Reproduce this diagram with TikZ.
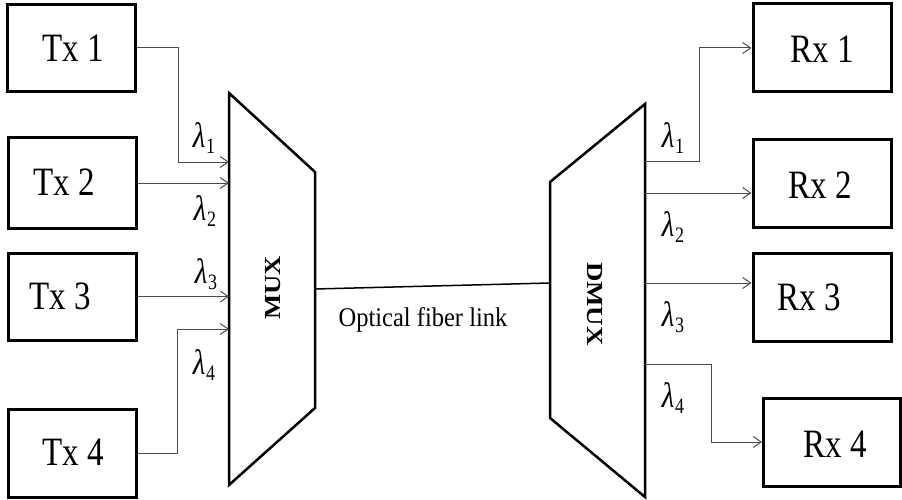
\documentclass[tikz,border=0pt]{standalone}
\usepackage{graphicx}
\usepackage{fontspec}
\setmainfont{Liberation Serif}
\usetikzlibrary{arrows.meta}
\newcommand{\vstretch}[1]{\scalebox{1}[1.22]{#1}}
\newcommand{\lamlabel}[1]{\vstretch{\fontsize{29}{29}\selectfont\textit{λ}\kern0.5pt\raisebox{-0.16em}{\fontsize{18}{18}\selectfont #1}}}
\begin{document}
\begin{tikzpicture}[x=1pt,y=-1pt,
  box/.style={draw=black,line width=3pt,inner sep=0pt},
  boxtext/.style={font=\fontsize{33}{33}\selectfont,inner sep=0pt},
  arr/.style={draw=black!70,line width=1pt,-{Straight Barb[length=8pt,width=11pt,line width=1pt]}},
  lam/.style={inner sep=0pt},
  dev/.style={draw=black,line width=2.5pt,line join=miter},
  devtext/.style={font=\fontsize{23}{23}\selectfont\bfseries,inner sep=0pt}]
\useasboundingbox (0,0) rectangle (902,500);
% transmitter boxes
\node[box,minimum width=128pt,minimum height=87pt] (tx1) at (71.5,48) {};
\node[box,minimum width=128pt,minimum height=90pt] (tx2) at (72.5,183) {};
\node[box,minimum width=128pt,minimum height=87pt] (tx3) at (72,296.5) {};
\node[box,minimum width=128pt,minimum height=88pt] (tx4) at (72,453) {};
\node[boxtext] (t1) at (73,48) {\vstretch{Tx 1}};
\node[boxtext] (t2) at (64,182) {\vstretch{Tx 2}};
\node[boxtext] (t3) at (60,296) {\vstretch{Tx 3}};
\node[boxtext] (t4) at (73,452) {\vstretch{Tx 4}};
% receiver boxes
\node[box,minimum width=138pt,minimum height=88pt] (rx1) at (822,48) {};
\node[box,minimum width=138pt,minimum height=87pt] (rx2) at (822,183.5) {};
\node[box,minimum width=138pt,minimum height=88pt] (rx3) at (822,297) {};
\node[box,minimum width=137pt,minimum height=88pt] (rx4) at (832,442) {};
\node[boxtext] (r1) at (822,49) {\vstretch{Rx 1}};
\node[boxtext] (r2) at (820,185) {\vstretch{Rx 2}};
\node[boxtext] (r3) at (809,297) {\vstretch{Rx 3}};
\node[boxtext] (r4) at (835,444) {\vstretch{Rx 4}};
% MUX
\coordinate (mtl) at (229,93);
\coordinate (mtr) at (315,172);
\coordinate (mbr) at (315,408);
\coordinate (mbl) at (229,485);
\draw[dev] (mtl) -- (mtr) -- (mbr) -- (mbl) -- cycle;
\node[devtext,rotate=90] (muxlabel) at (273,288) {\scalebox{1.16}[1]{MUX}};
% DMUX
\coordinate (dtr) at (645,104);
\coordinate (dtl) at (550,182);
\coordinate (dbl) at (550,418);
\coordinate (dbr) at (645,497);
\draw[dev] (dtr) -- (dtl) -- (dbl) -- (dbr) -- cycle;
\node[devtext,rotate=-90] (dmuxlabel) at (595,304) {\scalebox{1.17}[1]{DMUX}};
% MUX inputs
\coordinate (m1) at (229,162);
\coordinate (m4) at (229,329);
\draw[arr] (tx1.east) -- ++(41,0) |- (m1);
\draw[arr] (tx2.east) -- (tx2.east -| mtl);
\draw[arr] (tx3.east) -- (tx3.east -| mtl);
\draw[arr] (tx4.east) -- ++(40,0) |- (m4);
% DMUX outputs
\coordinate (d1) at (645,161);
\coordinate (d2) at (645,193);
\coordinate (d3) at (645,283);
\coordinate (d4) at (645,364);
\draw[arr] (d1) -- ++(54,0) |- (rx1.west);
\draw[arr] (d2) -- (d2 -| rx2.west);
\draw[arr] (d3) -- (d3 -| rx3.west);
\draw[arr] (d4) -- ++(66,0) |- (rx4.west);
% fiber link
\coordinate (fa) at (315,289);
\coordinate (fb) at (550,283);
\draw[black,line width=1.5pt] (fa) -- (fb);
\node[font=\fontsize{24.5}{24.5}\selectfont,inner sep=0pt] (fiber) at (423,320) {\scalebox{1}[1.1]{Optical fiber link}};
% wavelength labels
\node[lam] (la1) at (204,138) {\lamlabel{1}};
\node[lam] (la2) at (205,211) {\lamlabel{2}};
\node[lam] (la3) at (206,274) {\lamlabel{3}};
\node[lam] (la4) at (204,365) {\lamlabel{4}};
\node[lam] (lb1) at (673,138) {\lamlabel{1}};
\node[lam] (lb2) at (673,227) {\lamlabel{2}};
\node[lam] (lb3) at (673,317) {\lamlabel{3}};
\node[lam] (lb4) at (673,398) {\lamlabel{4}};
\end{tikzpicture}
\end{document}
